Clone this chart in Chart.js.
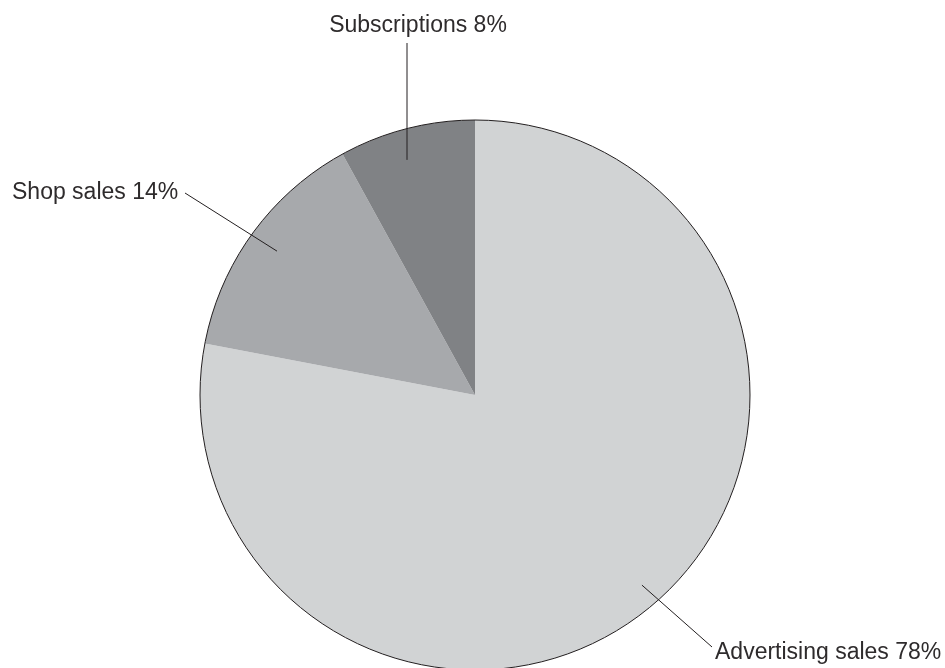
<!DOCTYPE html>
<html>
<head>
<meta charset="utf-8">
<script src="https://cdn.jsdelivr.net/npm/chart.js@4/dist/chart.umd.min.js"></script>
<style>
  html, body { margin: 0; padding: 0; background: #fff; overflow: hidden; }
  #wrap { position: relative; width: 945px; height: 700px; }
</style>
</head>
<body>
<div id="wrap"><canvas id="pie"></canvas></div>
<script>
const categories = ['Advertising sales', 'Shop sales', 'Subscriptions'];
const shares = [78, 14, 8];
const sliceColors = ['#d1d3d4', '#a7a9ac', '#808285'];

// where each callout sits: text anchor, leader line end, and the point inside the slice
const callouts = [
  { textX: 715, textY: 659, align: 'left',   endX: 712, endY: 647, angleFrac: 0.494, radiusFrac: 0.92 },
  { textX: 12,  textY: 199, align: 'left',   endX: 185, endY: 193, angleFrac: 0.50,  radiusFrac: 0.89 },
  { textX: 418, textY: 32,  align: 'center', endX: null, endY: 43, angleFrac: 0.44,  radiusFrac: 0.89 }
];

const ink = '#231f20';

const calloutPlugin = {
  id: 'callouts',
  afterDatasetsDraw(chart) {
    const ctx = chart.ctx;
    const arcs = chart.getDatasetMeta(0).data;
    const first = arcs[0];

    // outer rim only, no lines between slices
    ctx.save();
    ctx.beginPath();
    ctx.arc(first.x, first.y, first.outerRadius, 0, Math.PI * 2);
    ctx.strokeStyle = ink;
    ctx.lineWidth = 1;
    ctx.stroke();

    ctx.font = '23px "Liberation Sans", Arial, sans-serif';
    ctx.textBaseline = 'alphabetic';

    arcs.forEach((arc, i) => {
      const c = callouts[i];
      const a = arc.startAngle + (arc.endAngle - arc.startAngle) * c.angleFrac;
      const r = arc.outerRadius * c.radiusFrac;
      const sx = arc.x + Math.cos(a) * r;
      const sy = arc.y + Math.sin(a) * r;
      const ex = c.endX === null ? sx : c.endX;

      ctx.beginPath();
      ctx.moveTo(sx, sy);
      ctx.lineTo(ex, c.endY);
      ctx.lineWidth = 1;
      ctx.strokeStyle = ink;
      ctx.stroke();

      ctx.fillStyle = '#2e2b2c';
      ctx.textAlign = c.align;
      ctx.fillText(categories[i] + ' ' + shares[i] + '%', c.textX, c.textY);
    });
    ctx.restore();
  }
};

new Chart(document.getElementById('pie').getContext('2d'), {
  type: 'pie',
  data: {
    labels: categories,
    datasets: [{
      data: shares,
      backgroundColor: sliceColors,
      borderWidth: 0
    }]
  },
  options: {
    responsive: true,
    maintainAspectRatio: false,
    animation: false,
    layout: { padding: { top: 120, bottom: 30, left: 200, right: 195 } },
    plugins: {
      legend: { display: false },
      tooltip: { enabled: false }
    }
  },
  plugins: [calloutPlugin]
});
</script>
</body>
</html>
